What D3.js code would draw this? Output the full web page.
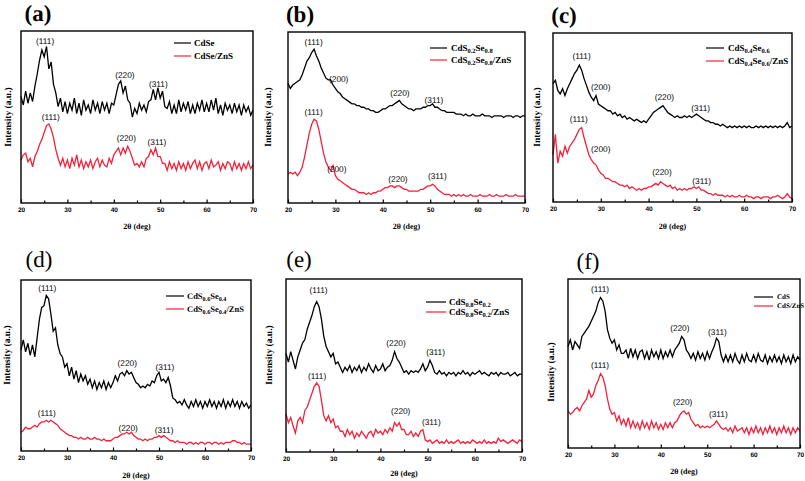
<!DOCTYPE html>
<html><head><meta charset="utf-8">
<script src="https://cdn.jsdelivr.net/npm/d3@7"></script>
<style>body{margin:0;background:#fff}svg{display:block}text{text-rendering:geometricPrecision}</style>
</head><body>
<script>
// 2θ sampling grid (degrees)
const twoTheta = d3.range(0, 101).map(i => 20 + i * 0.5);
const xMajorTicks = [20, 30, 40, 50, 60, 70];
const xMinorTicks = [25, 35, 45, 55, 65];

// Intensities (a.u., 0 = bottom of frame, 100 = top), sampled every 0.5°
const aBlack = [62,57,65,58,64,59,68,75,83,89, 85,91,78,82,69,64,56,61,53,59, 52,58,54,61,52,58,51,60,54,57, 52,60,54,58,52,59,54,58,52,58,
  57,63,69,71,64,68,60,58,50,55, 52,58,54,57,53,59,60,66,60,67, 61,65,56,55,59,52,57,52,60,53, 58,54,59,52,57,52,58,54,60,53,
  58,53,60,54,61,52,57,51,58,54, 57,52,58,53,57,51,57,53,56,51, 54];
const aRed = [25,28,29,24,26,21,27,30,34,37, 41,45,46,43,38,31,26,22,26,21, 25,20,26,22,28,21,25,20,24,21, 25,20,24,26,21,25,22,21,26,23,
  28,30,32,28,32,29,33,30,26,22, 23,21,24,21,26,27,31,28,32,27, 27,23,23,19,24,20,23,19,24,20, 23,19,24,20,23,25,20,24,19,23,
  24,20,25,21,22,24,19,23,20,24, 23,19,24,20,23,19,23,20,24,20, 22];
const bBlack = [70,67,69,70,71,72,75,79,83,85, 88,90,86,83,79,76,73,72,72,69, 67,65,64,62,61,60,59,58,58,57, 57,56,56,55,55,54,54,53,53,54,
  55,55,56,57,57,58,59,60,58,57, 56,55,55,54,55,55,55,56,56,57, 57,58,56,56,55,54,54,53,53,53, 53,52,52,52,51,52,51,51,52,51,
  51,51,52,51,51,51,50,51,51,51, 51,50,51,51,51,50,51,51,50,51, 51];
const bRed = [17,18,17,18,16,18,21,27,34,41, 46,49,48,43,36,29,24,21,19,22, 16,14,13,12,11,10,9,8,8,7, 6,6,6,5,6,5,6,6,7,7,
  8,9,9,10,10,9,10,10,9,8, 8,7,7,7,7,7,8,8,9,10, 10,11,10,8,7,6,5,5,5,4, 5,4,5,4,5,4,4,5,4,4,
  4,5,4,4,4,5,4,4,5,4, 4,4,5,4,4,4,5,4,4,4, 4];
const cBlack = [70,72,66,64,67,63,67,70,73,76, 78,81,78,73,69,65,62,60,63,58, 57,56,55,54,54,52,53,51,52,50, 51,49,50,49,48,49,48,47,48,47,
  49,51,53,54,55,56,57,55,53,52, 51,50,51,50,50,51,50,51,50,51, 52,51,50,49,48,48,47,47,46,46, 45,46,45,44,45,44,45,44,45,44,
  45,44,45,44,44,45,44,45,44,45, 44,45,44,45,44,45,44,45,47,44, 45];
const cRed = [28,40,23,30,27,33,29,33,35,37, 40,43,44,38,33,28,25,23,22,19, 17,16,14,14,13,12,12,11,10,10, 9,10,8,9,8,7,8,7,8,8,
  9,9,10,11,10,12,11,10,9,10, 8,9,7,8,7,8,7,8,8,9, 8,9,7,7,6,5,5,4,5,4, 4,4,3,4,3,4,3,3,4,3,
  3,4,3,3,2,3,3,2,3,3, 3,2,3,3,4,3,2,3,5,3, 2];
const dBlack = [59,65,58,63,56,62,55,66,77,84, 85,91,89,80,70,72,62,57,55,49, 51,44,49,42,47,40,45,41,44,39, 42,37,41,36,40,37,41,36,40,37,
  40,44,41,45,46,44,47,45,46,43, 40,39,37,38,37,39,38,41,40,44, 46,41,42,40,43,38,31,30,28,29, 27,30,27,25,29,26,30,26,29,25,
  29,26,30,26,29,25,29,26,30,25, 29,26,30,26,29,25,29,26,28,25, 27];
const dRed = [11,12,14,13,13,14,15,14,16,17, 17,18,17,18,17,16,15,13,12,11, 10,9,9,8,8,7,8,7,7,8, 7,7,8,7,7,6,7,6,6,6,
  7,8,8,9,10,10,11,10,11,9, 8,7,7,6,7,6,7,7,8,8, 9,8,9,8,7,6,6,5,6,5, 5,5,4,5,5,4,5,4,5,5,
  4,5,5,4,5,5,4,5,4,5, 5,5,6,6,5,5,4,5,4,4, 4];
const eBlack = [57,52,58,53,48,55,59,63,65,71, 75,79,84,87,84,77,67,61,58,55, 57,51,52,49,46,49,47,50,46,49, 47,50,46,49,47,51,48,46,50,47,
  48,51,47,49,50,53,58,54,52,49, 46,47,45,47,46,47,46,48,51,47, 49,53,50,46,45,47,45,46,44,46, 45,46,44,46,45,47,45,46,44,46,
  45,46,47,45,46,45,44,46,45,46, 44,46,45,45,46,44,45,46,44,45, 45];
const eRed = [22,17,20,15,11,18,20,17,24,26, 30,34,38,40,38,30,21,18,21,17, 19,14,15,12,12,9,13,10,12,8, 11,9,12,10,8,11,12,9,13,11,
  12,10,13,11,14,12,17,15,17,13, 13,10,10,12,9,11,9,12,13,7, 6,7,5,6,7,5,6,5,7,5, 6,5,6,7,5,6,5,6,5,7,
  6,5,6,5,7,5,6,5,6,5, 8,6,7,6,5,6,7,6,5,7, 6];
const fBlack = [60,64,58,63,61,59,66,68,70,72, 75,78,81,86,89,87,81,70,65,62, 64,58,61,56,56,58,53,59,54,58, 53,57,58,53,57,52,58,54,57,53,
  58,53,57,54,58,54,58,60,62,66, 64,58,56,53,56,52,57,53,56,52, 57,53,57,60,65,63,55,51,55,51, 55,51,56,52,50,55,51,56,52,51,
  55,51,56,52,51,55,50,54,51,55, 51,54,50,55,51,54,50,55,51,54, 52];
const fRed = [22,20,21,23,24,22,25,27,29,34, 30,32,37,40,44,42,37,29,23,20, 21,16,19,14,17,13,18,12,16,12, 15,11,16,12,15,11,16,12,15,11,
  14,11,15,12,15,12,15,16,19,21, 22,20,21,17,15,13,14,12,13,12, 13,12,13,14,16,14,12,11,12,10, 12,9,13,10,11,12,9,12,8,12,
  9,13,9,12,8,12,9,13,9,12, 8,12,9,13,9,12,8,12,9,12, 10];

// Peak annotations: [text, 2θ, intensity, series]
const aPeaks = [["(111)",25.2,94,"k"],["(220)",42.4,74,"k"],["(311)",49.6,68.5,"k"],["(111)",26.4,49.5,"r"],["(220)",42.7,37.6,"r"],["(311)",49.3,35,"r"]];
const bPeaks = [["(111)",25.4,93.5,"k"],["(200)",30.7,72,"k"],["(220)",43.6,64,"k"],["(311)",50.8,60,"k"],["(111)",25.4,53,"r"],["(200)",30.3,19.6,"r"],["(220)",43.2,13.5,"r"],["(311)",51.5,15.5,"r"]];
const cPeaks = [["(111)",26.0,86,"k"],["(200)",30.0,67.3,"k"],["(220)",43.3,61.4,"k"],["(311)",50.9,55.4,"k"],["(111)",25.4,48.9,"r"],["(200)",30.0,31,"r"],["(220)",42.8,17.4,"r"],["(311)",51.1,11.9,"r"]];
const dPeaks = [["(111)",25.7,95,"k"],["(220)",43.1,51,"k"],["(311)",51.3,48.8,"k"],["(111)",25.6,21.9,"r"],["(220)",43.3,13,"r"],["(311)",51.1,11.7,"r"]];
const ePeaks = [["(111)",26.9,93.4,"k"],["(220)",43.3,62.4,"k"],["(311)",51.7,57.5,"k"],["(111)",26.6,43.6,"r"],["(220)",44.3,23.4,"r"],["(311)",50.8,17,"r"]];
const fPeaks = [["(111)",26.9,93.7,"k"],["(220)",44.1,70.4,"k"],["(311)",52.2,68.4,"k"],["(111)",26.9,48.7,"r"],["(220)",44.7,26.6,"r"],["(311)",52.4,19.7,"r"]];

// Legend names: segments [text, isSubscript]
const aNames = [[["CdSe",0]], [["CdSe/ZnS",0]]];
const bNames = [[["CdS",0],["0.2",1],["Se",0],["0.8",1]], [["CdS",0],["0.2",1],["Se",0],["0.8",1],["/ZnS",0]]];
const cNames = [[["CdS",0],["0.4",1],["Se",0],["0.6",1]], [["CdS",0],["0.4",1],["Se",0],["0.6",1],["/ZnS",0]]];
const dNames = [[["CdS",0],["0.6",1],["Se",0],["0.4",1]], [["CdS",0],["0.6",1],["Se",0],["0.4",1],["/ZnS",0]]];
const eNames = [[["CdS",0],["0.8",1],["Se",0],["0.2",1]], [["CdS",0],["0.8",1],["Se",0],["0.2",1],["/ZnS",0]]];
const fNames = [[["CdS",0]], [["CdS/ZnS",0]]];

const panelLetters = ["(a)","(b)","(c)","(d)","(e)","(f)"];
const xTitle = "2θ (deg)";
const yTitle = "Intensity (a.u.)";

const BLACK = "#000", RED = "#f5203a";

// Layout (pixels)
const panels = [
  {letter:panelLetters[0], bold:true,  L:21,  R:253, T:31,  B:203, k:aBlack, r:aRed, peaks:aPeaks, names:aNames,
   lg:{x0:174,x1:191,tx:194,y:[43,56],fs:9}, let:{x:38,y:21}, yl:{x:9,y:117}, xt:{y:229}},
  {letter:panelLetters[1], bold:true,  L:288, R:525, T:32,  B:203, k:bBlack, r:bRed, peaks:bPeaks, names:bNames,
   lg:{x0:430,x1:447,tx:451,y:[48,60],fs:9}, let:{x:300,y:22}, yl:{x:269,y:117}, xt:{y:229}},
  {letter:panelLetters[2], bold:true,  L:553, R:792, T:33,  B:202, k:cBlack, r:cRed, peaks:cPeaks, names:cNames,
   lg:{x0:706,x1:724,tx:728,y:[48,61],fs:9}, let:{x:564,y:23}, yl:{x:538,y:117}, xt:{y:229}},
  {letter:panelLetters[3], bold:false, L:21,  R:251, T:280, B:451, k:dBlack, r:dRed, peaks:dPeaks, names:dNames,
   lg:{x0:166,x1:184,tx:187,y:[296,309],fs:8.5}, let:{x:39,y:267}, yl:{x:8,y:355}, xt:{y:478}},
  {letter:panelLetters[4], bold:false, L:286, R:522, T:279, B:452, k:eBlack, r:eRed, peaks:ePeaks, names:eNames,
   lg:{x0:426,x1:446,tx:449,y:[302,312],fs:9}, let:{x:299,y:267}, yl:{x:270,y:355}, xt:{y:476}},
  {letter:panelLetters[5], bold:false, L:568, R:800, T:279, B:448, k:fBlack, r:fRed, peaks:fPeaks, names:fNames,
   lg:{x0:754,x1:773,tx:777,y:[297,306],fs:7}, let:{x:588,y:269}, yl:{x:552,y:372}, xt:{y:474}}
];

const svg = d3.select("body").append("svg").attr("width", 805).attr("height", 481)
  .style("font-family", "'Liberation Serif','Times New Roman',serif");
svg.append("rect").attr("width",805).attr("height",481).attr("fill","#fff");

panels.forEach(p => {
  const g = svg.append("g");
  const x = d3.scaleLinear().domain([20, 70]).range([p.L, p.R]);
  const y = d3.scaleLinear().domain([0, 100]).range([p.B, p.T]);
  const line = d3.line().x((d, i) => x(twoTheta[i])).y(d => y(d));

  g.append("path").datum(p.r).attr("d", line).attr("fill","none").attr("stroke",RED).attr("stroke-width",1.3).attr("stroke-linejoin","miter");
  g.append("path").datum(p.k).attr("d", line).attr("fill","none").attr("stroke",BLACK).attr("stroke-width",1.3).attr("stroke-linejoin","miter");

  // frame
  g.append("rect").attr("x",p.L).attr("y",p.T).attr("width",p.R-p.L).attr("height",p.B-p.T)
    .attr("fill","none").attr("stroke","#000").attr("stroke-width",1.4);

  // x axis ticks (inward) and labels
  const ax = d3.axisBottom(x).tickValues(xMajorTicks).tickSize(-3.5).tickPadding(6).tickFormat(d3.format("d"));
  const axg = g.append("g").attr("transform",`translate(0,${p.B})`).call(ax);
  axg.select(".domain").remove();
  axg.selectAll(".tick line").attr("stroke","#000").attr("stroke-width",1.2);
  axg.selectAll(".tick text").attr("font-family","'Liberation Sans',Arial,sans-serif").attr("font-weight","bold")
    .attr("font-size",6.5).attr("fill","#000").attr("dy","0.5em");
  const axm = d3.axisBottom(x).tickValues(xMinorTicks).tickSize(-2.5).tickFormat("");
  const amg = g.append("g").attr("transform",`translate(0,${p.B})`).call(axm);
  amg.select(".domain").remove();
  amg.selectAll(".tick line").attr("stroke","#000").attr("stroke-width",1.2);

  // axis titles
  g.append("text").attr("x",(p.L+p.R)/2).attr("y",p.xt.y).attr("text-anchor","middle")
    .attr("font-weight","bold").attr("font-size",8).attr("fill","#000").text(xTitle);
  g.append("text").attr("transform",`translate(${p.yl.x},${p.yl.y}) rotate(-90)`).attr("text-anchor","middle")
    .attr("dominant-baseline","middle").attr("font-weight","bold").attr("font-size",9.5).attr("fill","#000").text(yTitle);

  // panel letter
  g.append("text").attr("x",p.let.x).attr("y",p.let.y).attr("text-anchor","middle").attr("fill","#000")
    .attr("font-weight", p.bold ? "bold" : "normal").attr("font-size",23).text(p.letter);

  // peak labels
  g.selectAll("text.pk").data(p.peaks).enter().append("text").attr("class","pk")
    .attr("x", d => x(d[1])).attr("y", d => y(d[2])).attr("text-anchor","middle").attr("dominant-baseline","middle")
    .attr("font-family","'Liberation Sans',Arial,sans-serif").attr("font-size",8.3).attr("fill","#000").text(d => d[0]);

  // legend
  [BLACK, RED].forEach((c, i) => {
    const ly = p.lg.y[i];
    g.append("line").attr("x1",p.lg.x0).attr("x2",p.lg.x1).attr("y1",ly).attr("y2",ly).attr("stroke",c).attr("stroke-width",1.2);
    const t = g.append("text").attr("x",p.lg.tx).attr("y",ly).attr("dy","0.33em").attr("font-weight","bold")
      .attr("font-size",p.lg.fs).attr("fill","#000");
    let shifted = false;
    p.names[i].forEach(seg => {
      const ts = t.append("tspan").text(seg[0]);
      if (seg[1]) { ts.attr("font-size", p.lg.fs*0.72).attr("dy", shifted ? 0 : 2); shifted = true; }
      else { if (shifted) { ts.attr("dy", -2); shifted = false; } }
    });
  });
});
</script>
</body></html>
